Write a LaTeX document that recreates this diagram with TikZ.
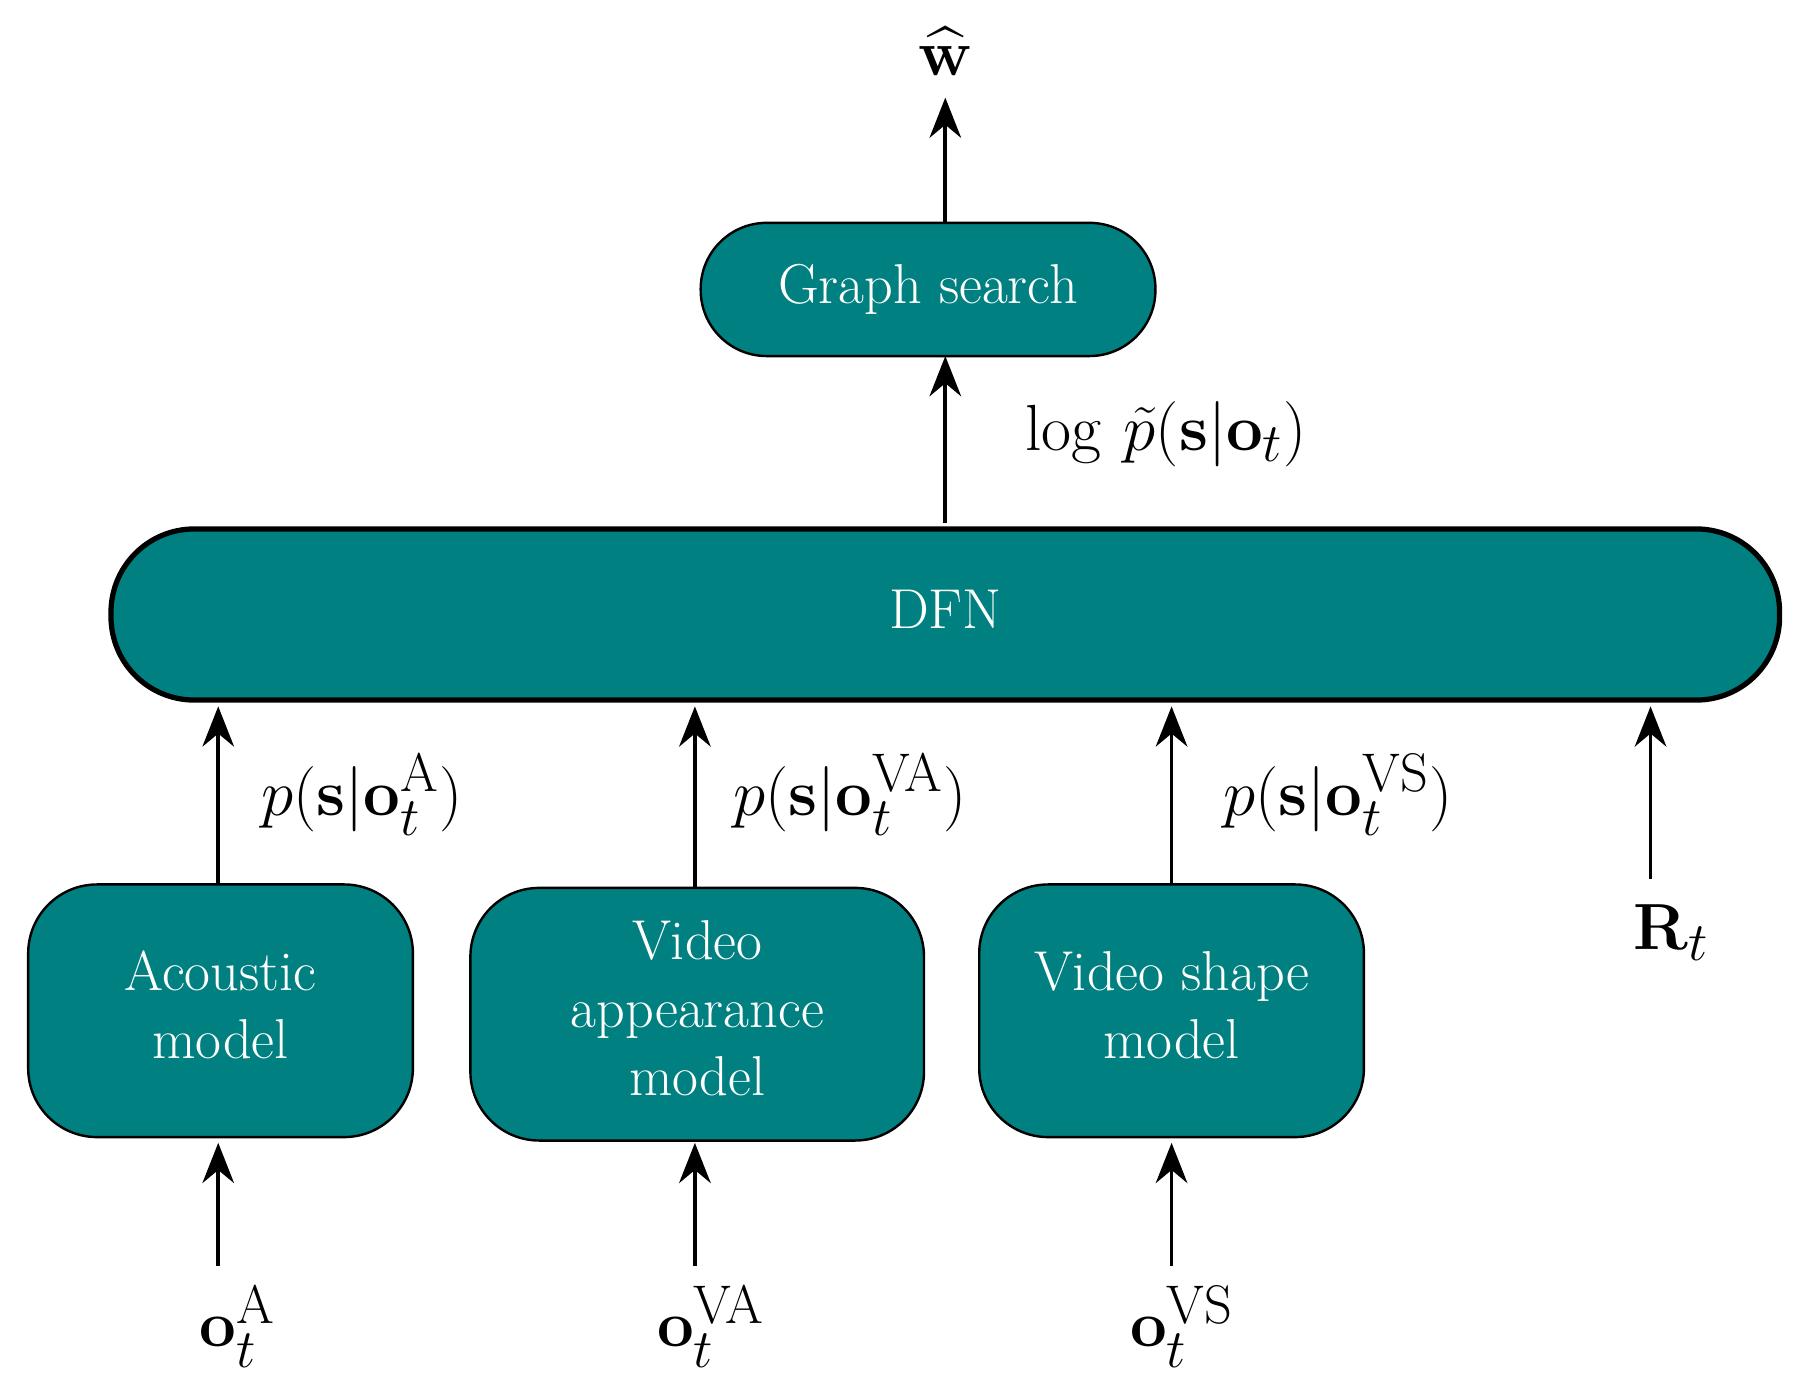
\documentclass[tikz,border=0pt]{standalone}
\usepackage{amsmath}
\usetikzlibrary{arrows.meta}
\newcommand\bxt[1]{\scalebox{1.12}{\begin{tabular}{@{}c@{}}#1\end{tabular}}}
\begin{document}
\begin{tikzpicture}[x=0.02cm,y=-0.02cm,
  font=\Huge,
  box/.style={draw=black,line width=1.2pt,fill={rgb,255:red,0;green,128;blue,128},text=white,align=center,inner sep=0pt},
  arr/.style={line width=1.8pt,-{Stealth[length=0.7cm,width=0.55cm]}},
  lab/.style={font=\Huge,scale=1.3}]
\useasboundingbox (0,0) rectangle (1568,1213);
\node[box,minimum width=7.92cm,minimum height=2.32cm,rounded corners=1.15cm] (gs) at (808,252) {\bxt{Graph search}};
\node[box,line width=2.6pt,minimum width=29.06cm,minimum height=2.98cm,rounded corners=1.45cm] (dfn) at (823,535) {\bxt{DFN}};
\node[box,minimum width=6.7cm,minimum height=4.4cm,rounded corners=1.2cm] (am) at (192,880) {\bxt{Acoustic\\model}};
\node[box,minimum width=7.9cm,minimum height=4.4cm,rounded corners=1.2cm] (va) at (607,883) {\bxt{Video\\appearance\\model}};
\node[box,minimum width=6.7cm,minimum height=4.4cm,rounded corners=1.2cm] (vs) at (1020,880) {\bxt{Video shape\\model}};
\node[lab] (w) at (823,45) {$\widehat{\mathbf{w}}$};
\coordinate (gsb) at (823,310);
\coordinate (dfnt) at (823,455);
\coordinate (gst) at (823,194);
\draw[arr] (gst) -- (823,85);
\draw[arr] (dfnt) -- (gsb);
\node[lab] (logp) at (1015,378) {$\log\,\tilde{p}(\mathbf{s}|\mathbf{o}_t)$};
\draw[arr] (190,770) coordinate (a1) -- (190,615) coordinate (a2);
\draw[arr] (605,773) coordinate (b1) -- (605,615) coordinate (b2);
\draw[arr] (1020,770) coordinate (c1) -- (1020,615) coordinate (c2);
\node[lab] (pa) at (315,692) {$p(\mathbf{s}|\mathbf{o}_t^{\mathrm{A}})$};
\node[lab] (pva) at (740,692) {$p(\mathbf{s}|\mathbf{o}_t^{\mathrm{VA}})$};
\node[lab] (pvs) at (1165,692) {$p(\mathbf{s}|\mathbf{o}_t^{\mathrm{VS}})$};
\node[lab] (rt) at (1455,812) {$\mathbf{R}_t$};
\draw[arr] (1437,765) coordinate (r1) -- (1437,615) coordinate (r2);
\node[lab] (oa) at (207,1155) {$\mathbf{o}_t^{\mathrm{A}}$};
\node[lab] (ova) at (619,1155) {$\mathbf{o}_t^{\mathrm{VA}}$};
\node[lab] (ovs) at (1029,1155) {$\mathbf{o}_t^{\mathrm{VS}}$};
\draw[arr] (190,1102) coordinate (d1) -- (190,995) coordinate (d2);
\draw[arr] (605,1102) coordinate (e1) -- (605,995) coordinate (e2);
\draw[arr] (1020,1102) coordinate (f1) -- (1020,995) coordinate (f2);
\end{tikzpicture}
\end{document}
